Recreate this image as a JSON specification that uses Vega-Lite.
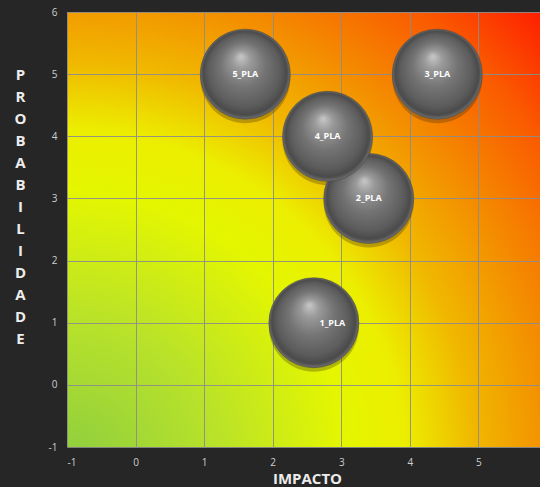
{
  "$schema": "https://vega.github.io/schema/vega-lite/v6.json",
  "autosize": "none",
  "width": 480,
  "height": 435,
  "padding": {"left": 67, "top": 12, "right": 0, "bottom": 40},
  "background": "#262626",
  "config": {
    "view": {
      "stroke": null,
      "fill": {
        "gradient": "radial",
        "x1": 0, "y1": 1, "r1": 0,
        "x2": 0, "y2": 1, "r2": 1.414,
        "stops": [
          {"offset": 0, "color": "#8ccd40"},
          {"offset": 0.22, "color": "#b8e22a"},
          {"offset": 0.41, "color": "#e4f600"},
          {"offset": 0.5, "color": "#ecee00"},
          {"offset": 0.6, "color": "#f0b800"},
          {"offset": 0.7, "color": "#f39300"},
          {"offset": 0.85, "color": "#fa5a00"},
          {"offset": 1, "color": "#ff1000"}
        ]
      }
    },
    "axis": {
      "grid": true,
      "gridColor": "#8c8c8c",
      "gridOpacity": 0.9,
      "gridWidth": 1,
      "domain": false,
      "ticks": false,
      "labelColor": "#cfcfcf",
      "labelFont": "Open Sans",
      "labelFontSize": 10,
      "labelExpr": "'' + datum.value",
      "titleColor": "#ececec",
      "titleFont": "Open Sans",
      "titleFontWeight": "bold",
      "titleFontSize": 15
    }
  },
  "data": {
    "values": [
      {"id": "1_PLA", "impacto": 2.6, "prob": 1, "label_impacto": 2.87},
      {"id": "2_PLA", "impacto": 3.4, "prob": 3, "label_impacto": 3.4},
      {"id": "3_PLA", "impacto": 4.4, "prob": 5, "label_impacto": 4.4},
      {"id": "4_PLA", "impacto": 2.8, "prob": 4, "label_impacto": 2.8},
      {"id": "5_PLA", "impacto": 1.6, "prob": 5, "label_impacto": 1.6}
    ]
  },
  "encoding": {
    "y": {
      "field": "prob",
      "type": "quantitative",
      "scale": {"domain": [-1, 6], "nice": false, "zero": false},
      "axis": {
        "values": [-1, 0, 1, 2, 3, 4, 5, 6],
        "labelPadding": 10,
        "title": ["P", "R", "O", "B", "A", "B", "I", "L", "I", "D", "A", "D", "E"],
        "titleAngle": 0,
        "titleAlign": "center",
        "titleBaseline": "top",
        "titleX": -47,
        "titleY": 55,
        "titleLineHeight": 22
      }
    }
  },
  "layer": [
    {
      "mark": {
        "type": "point",
        "shape": "circle",
        "filled": true,
        "size": 8100,
        "opacity": 0.3,
        "fill": "#3a2a10"
      },
      "encoding": {
        "x": {"field": "impacto", "type": "quantitative"},
        "yOffset": {"value": 4}
      }
    },
    {
      "mark": {
        "type": "point",
        "shape": "circle",
        "filled": true,
        "size": 8100,
        "opacity": 1,
        "stroke": "#404040",
        "strokeWidth": 0.5,
        "fill": {
          "gradient": "radial",
          "x1": 0.45, "y1": 0.3, "r1": 0,
          "x2": 0.5, "y2": 0.5, "r2": 0.5,
          "stops": [
            {"offset": 0, "color": "#c8c8c8"},
            {"offset": 0.2, "color": "#9a9a9a"},
            {"offset": 0.5, "color": "#747474"},
            {"offset": 0.8, "color": "#5c5c5c"},
            {"offset": 0.93, "color": "#4a4a4a"},
            {"offset": 1, "color": "#707070"}
          ]
        }
      },
      "encoding": {
        "x": {
          "field": "impacto",
          "type": "quantitative",
          "scale": {"domain": [-1, 6], "nice": false, "zero": false},
          "axis": {
            "values": [-1, 0, 1, 2, 3, 4, 5],
            "labelPadding": 10,
            "title": "IMPACTO",
            "titleBaseline": "alphabetic",
            "titleY": 36
          }
        }
      }
    },
    {
      "mark": {
        "type": "text",
        "font": "Open Sans",
        "fontWeight": "bold",
        "fontSize": 9,
        "color": "#ffffff",
        "align": "center",
        "baseline": "middle"
      },
      "encoding": {
        "x": {"field": "label_impacto", "type": "quantitative"},
        "text": {"field": "id"}
      }
    }
  ]
}
